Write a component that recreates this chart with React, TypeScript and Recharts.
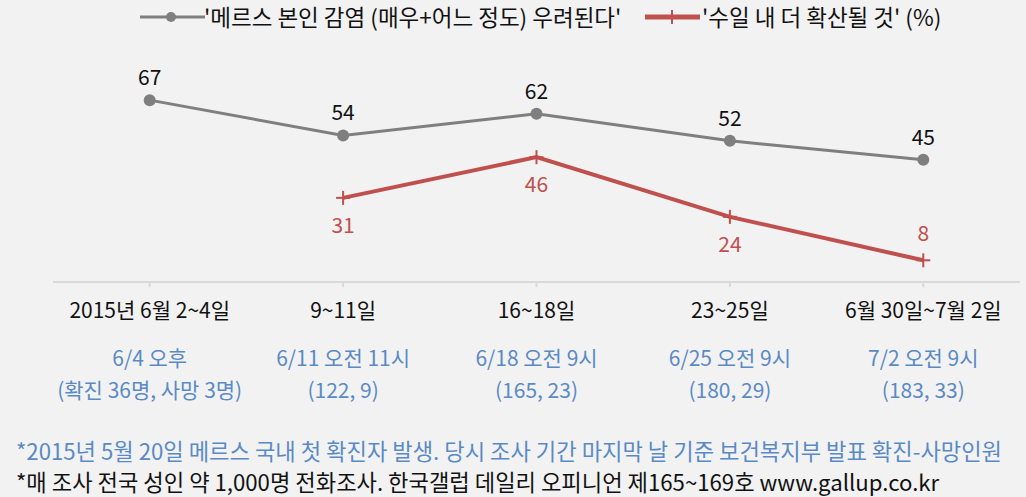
import React from "react";
import { LineChart, Line, XAxis, YAxis, LabelList, Legend } from "recharts";

const periods = ["2015년 6월 2~4일", "9~11일", "16~18일", "23~25일", "6월 30일~7월 2일"];
const reportTimes = ["6/4 오후", "6/11 오전 11시", "6/18 오전 9시", "6/25 오전 9시", "7/2 오전 9시"];
const caseCounts = ["(확진 36명, 사망 3명)", "(122, 9)", "(165, 23)", "(180, 29)", "(183, 33)"];
const worried = [67, 54, 62, 52, 45];
const spread = [null, 31, 46, 24, 8];

const worriedName = "'메르스 본인 감염 (매우+어느 정도) 우려된다'";
const spreadName = "'수일 내 더 확산될 것' (%)";

const data = periods.map((p, i) => ({
  period: p,
  worried: worried[i],
  spread: spread[i],
}));

const FONT = "'Noto Sans CJK KR', 'Noto Sans', sans-serif";
const GRAY = "#7F7F7F";
const RED = "#C0504D";
const BLUE = "#5A8AC6";

const CategoryTick = (props: any) => {
  const { x, y, payload, index } = props;
  return (
    <g transform={`translate(${x},${y})`}>
      <text x={0} y={29} textAnchor="middle" fontSize={21} fill="#111" fontFamily={FONT}>
        {payload.value}
      </text>
      <text x={0} y={77} textAnchor="middle" fontSize={21} fill={BLUE} fontFamily={FONT}>
        {reportTimes[index]}
      </text>
      <text x={0} y={109} textAnchor="middle" fontSize={21} fill={BLUE} fontFamily={FONT}>
        {caseCounts[index]}
      </text>
    </g>
  );
};

const CrossDot = (props: any) => {
  const { cx, cy } = props;
  if (cx == null || cy == null || props.value == null) return null;
  return (
    <g>
      <line x1={cx - 7} y1={cy} x2={cx + 7} y2={cy} stroke={RED} strokeWidth={2} />
      <line x1={cx} y1={cy - 7} x2={cx} y2={cy + 7} stroke={RED} strokeWidth={2} />
    </g>
  );
};

const SpreadLabel = (props: any) => {
  const { x, y, value, index } = props;
  if (value == null) return null;
  const above = index === spread.length - 1;
  return (
    <text
      x={x}
      y={above ? y - 19 : y + 35}
      textAnchor="middle"
      fontSize={21}
      fill={RED}
      fontFamily={FONT}
    >
      {value}
    </text>
  );
};

const LegendContent = () => (
  <div style={{ position: "relative", height: 34, fontFamily: FONT, fontSize: 22.5, color: "#111" }}>
    <svg width={1026} height={34} style={{ position: "absolute", left: 0, top: 0 }}>
      <line x1={140} y1={17} x2={205} y2={17} stroke={GRAY} strokeWidth={3} />
      <circle cx={171} cy={17} r={5} fill={GRAY} />
      <line x1={645} y1={17} x2={700} y2={17} stroke={RED} strokeWidth={5} />
      <line x1={672} y1={10} x2={672} y2={24} stroke={RED} strokeWidth={2} />
    </svg>
    <span style={{ position: "absolute", left: 204, top: 0, whiteSpace: "nowrap" }}>{worriedName}</span>
    <span style={{ position: "absolute", left: 702, top: 0, whiteSpace: "nowrap" }}>{spreadName}</span>
  </div>
);

export default function App() {
  return (
    <div
      style={{
        position: "absolute",
        left: 0,
        top: 0,
        width: 1026,
        height: 497,
        background: "#F2F2F2",
        fontFamily: FONT,
        overflow: "hidden",
      }}
    >
      <LineChart
        width={1026}
        height={420}
        data={data}
        margin={{ top: 58, right: 6, left: 53, bottom: 0 }}
      >
        <Legend
          verticalAlign="top"
          height={34}
          content={LegendContent}
          wrapperStyle={{ top: 0, left: 0, width: 1026 }}
        />
        <XAxis
          dataKey="period"
          scale="band"
          height={138}
          stroke="#D9D9D9"
          strokeWidth={2}
          tickSize={5}
          tickLine={{ stroke: "#D9D9D9" }}
          interval={0}
          tick={<CategoryTick />}
        />
        <YAxis hide domain={[0, 70]} />
        <Line
          dataKey="worried"
          name={worriedName}
          stroke={GRAY}
          strokeWidth={3}
          dot={{ r: 6, fill: GRAY, stroke: GRAY, strokeWidth: 0 }}
          isAnimationActive={false}
        >
          <LabelList dataKey="worried" position="top" offset={15} fontSize={21} fill="#111" fontFamily={FONT} />
        </Line>
        <Line
          dataKey="spread"
          name={spreadName}
          stroke={RED}
          strokeWidth={4}
          dot={<CrossDot />}
          isAnimationActive={false}
        >
          <LabelList dataKey="spread" content={<SpreadLabel />} />
        </Line>
      </LineChart>
      <div
        style={{
          position: "absolute",
          left: 16,
          top: 434,
          fontSize: 22.2,
          color: BLUE,
          whiteSpace: "nowrap",
        }}
      >
        *2015년 5월 20일 메르스 국내 첫 확진자 발생. 당시 조사 기간 마지막 날 기준 보건복지부 발표 확진-사망인원
      </div>
      <div
        style={{
          position: "absolute",
          left: 16,
          top: 465,
          fontSize: 22.2,
          color: "#111",
          whiteSpace: "nowrap",
        }}
      >
        *매 조사 전국 성인 약 1,000명 전화조사. 한국갤럽 데일리 오피니언 제165~169호 www.gallup.co.kr
      </div>
    </div>
  );
}
